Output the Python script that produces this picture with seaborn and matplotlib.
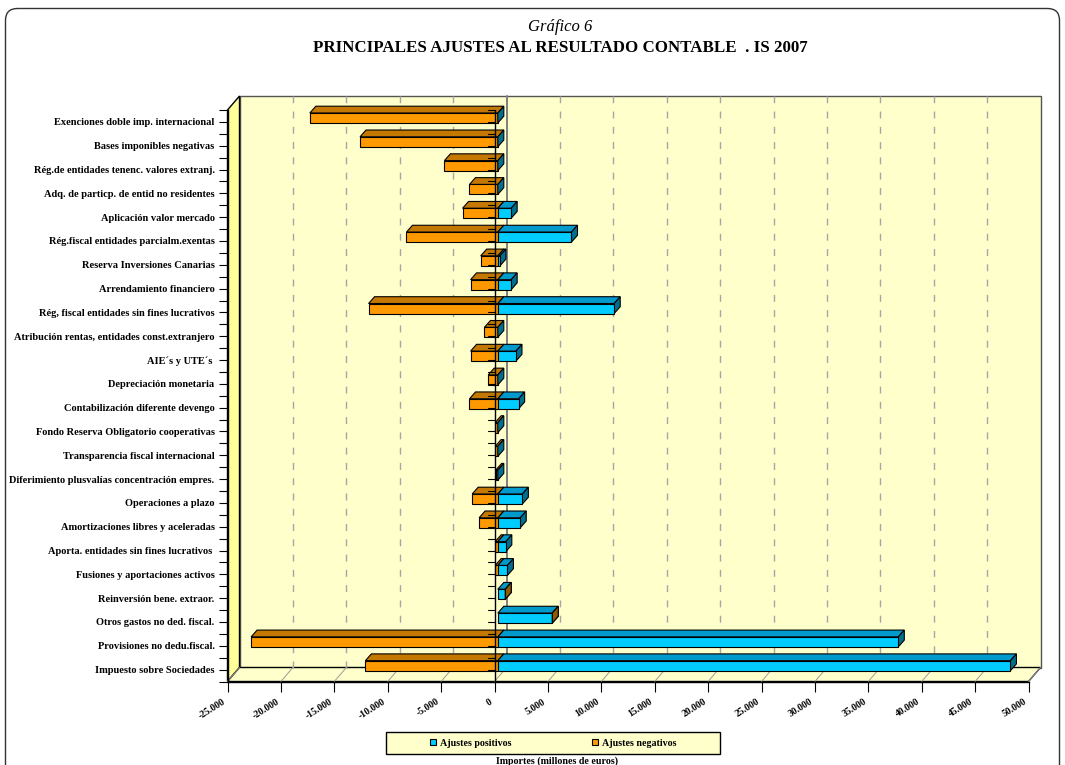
import numpy as np
import pandas as pd
import seaborn as sns
import matplotlib
matplotlib.use("Agg")
import matplotlib.pyplot as plt
import matplotlib.transforms as mtransforms
from matplotlib.patches import Polygon, Rectangle, FancyBboxPatch
from matplotlib.lines import Line2D
from matplotlib.ticker import FixedLocator, FuncFormatter

# ---------------------------------------------------------------- data
conceptos = [
    "Exenciones doble imp. internacional",
    "Bases imponibles negativas",
    "Rég.de entidades tenenc. valores extranj.",
    "Adq. de particp. de entid no residentes",
    "Aplicación valor mercado",
    "Rég.fiscal entidades parcialm.exentas",
    "Reserva Inversiones Canarias",
    "Arrendamiento financiero",
    "Rég, fiscal entidades sin fines lucrativos",
    "Atribución rentas, entidades const.extranjero",
    "AIE´s y UTE´s ",
    "Depreciación monetaria",
    "Contabilización diferente devengo",
    "Fondo Reserva Obligatorio cooperativas",
    "Transparencia fiscal internacional",
    "Diferimiento plusvalías concentración empres.",
    "Operaciones a plazo",
    "Amortizaciones libres y aceleradas",
    "Aporta. entidades sin fines lucrativos ",
    "Fusiones y aportaciones activos",
    "Reinversión bene. extraor.",
    "Otros gastos no ded. fiscal.",
    "Provisiones no dedu.fiscal.",
    "Impuesto sobre Sociedades",
]
ajustes_positivos = [0, 0, 0, 0, 1250, 6900, 200, 1250, 10900, 0, 1700, 0,
                     1950, 0, 0, 0, 2300, 2100, 750, 900, 700, 5100, 37500, 48000]
ajustes_negativos = [-17600, -12900, -5000, -2650, -3300, -8550, -1600, -2550,
                     -12100, -1250, -2550, -900, -2650, -250, -250, -200, -2400,
                     -1750, -250, -250, 0, 0, -23100, -12400]
series = ["Ajustes positivos", "Ajustes negativos"]
x_ticks = list(range(-25000, 50001, 5000))

titulo_sup = "Gráfico 6"
titulo = "PRINCIPALES AJUSTES AL RESULTADO CONTABLE  . IS 2007"
eje_x = "Importes (millones de euros)"

# ---------------------------------------------------------------- style
sns.set_style("ticks", {"axes.edgecolor": "black", "text.color": "black",
                        "xtick.color": "black", "ytick.color": "black",
                        "axes.labelcolor": "black"})
plt.rcParams["font.family"] = ["Liberation Serif", "DejaVu Serif"]
plt.rcParams["font.weight"] = "bold"

COL_POS, COL_POS_TOP, COL_POS_SIDE = "#00CCFF", "#0099CC", "#006F8F"
COL_NEG, COL_NEG_TOP, COL_NEG_SIDE = "#FF9900", "#C47800", "#8F5A00"
WALL, LEFT_WALL = "#FFFFCC", "#FFFF99"

W, H = 1065, 765
fig = plt.figure(figsize=(W / 100, H / 100), dpi=100)
fig.patch.set_facecolor("white")

# front plane of the plot box, in pixels measured from the top-left corner
FL, FR, FT, FB = 227.5, 1028.5, 110.0, 681.5
ax = fig.add_axes([FL / W, 1 - FB / H, (FR - FL) / W, (FB - FT) / H])
ax.set_facecolor("none")

n = len(conceptos)
df = pd.DataFrame({
    "Concepto": conceptos * 2,
    "Importe": ajustes_positivos + ajustes_negativos,
    "Serie": [series[0]] * n + [series[1]] * n,
})

sns.barplot(data=df, y="Concepto", x="Importe", hue="Serie", hue_order=series,
            order=conceptos, palette={series[0]: COL_POS, series[1]: COL_NEG},
            dodge=False, width=0.42, saturation=1, errorbar=None,
            edgecolor="black", linewidth=0.8, ax=ax)

leg = ax.get_legend()
handles = leg.legend_handles
labels = [t.get_text() for t in leg.get_texts()]
leg.remove()

ax.set_xlim(-25000, 50000)
ax.set_ylim(n - 0.5, -0.5)
ax.set_autoscale_on(False)
ax.set_xlabel("")
ax.set_ylabel("")

ax.xaxis.set_major_locator(FixedLocator(x_ticks))
ax.xaxis.set_major_formatter(FuncFormatter(lambda v, _: f"{int(v):,}".replace(",", ".")))
ax.yaxis.set_minor_locator(FixedLocator(np.arange(-0.5, n, 1.0)))
ax.tick_params(axis="y", which="both", direction="out", length=6.8, width=0.8,
               pad=2.5, labelsize=7.5, left=True)
ax.tick_params(axis="x", direction="out", length=7.2, width=0.8, pad=4,
               labelsize=7, bottom=True)
for s in ("top", "right"):
    ax.spines[s].set_visible(False)
for s in ("left", "bottom"):
    ax.spines[s].set_linewidth(1.0)
    ax.spines[s].set_color("black")

# ---------------------------------------------------------------- 3-D box
ID = mtransforms.IdentityTransform()
WDX, WDY = 12.0, 14.0      # depth of the box (display pixels)
BSX, BSY = 3.3, 3.9        # bars sit a little behind the front plane
BDX, BDY = 6.0, 6.8        # thickness of each bar


def disp(xv, yv):
    return ax.transData.transform((xv, yv))


xl, yb = disp(-25000, n - 0.5)
xr, yt = disp(50000, -0.5)


def add_poly(pts, fc, ec="black", lw=0.8, z=1.0):
    p = Polygon(pts, closed=True, facecolor=fc, edgecolor=ec, linewidth=lw,
                transform=ID, zorder=z, clip_on=False)
    ax.add_artist(p)
    return p


def add_line(xs, ys, **kw):
    ln = Line2D(xs, ys, transform=ID, clip_on=False, **kw)
    ax.add_artist(ln)
    return ln


# back wall, left wall and floor
add_poly([(xl + WDX, yb + WDY), (xr + WDX, yb + WDY), (xr + WDX, yt + WDY),
          (xl + WDX, yt + WDY)], WALL, ec="#555555", lw=1.0, z=0.2)
add_poly([(xl, yb), (xl + WDX, yb + WDY), (xl + WDX, yt + WDY), (xl, yt)],
         LEFT_WALL, ec="black", lw=1.0, z=0.3)
add_poly([(xl, yb), (xr, yb), (xr + WDX, yb + WDY), (xl + WDX, yb + WDY)],
         WALL, ec="black", lw=1.0, z=0.3)

# gridlines on the back wall and on the floor
for v in x_ticks:
    xv, _ = disp(v, 0)
    if -25000 < v < 50000:
        if v == 0:
            add_line([xv + WDX, xv + WDX], [yb + WDY, yt + WDY], color="#7F7F7F",
                     lw=1.4, zorder=0.4)
        else:
            add_line([xv + WDX, xv + WDX], [yb + WDY, yt + WDY], color="#A6A6A6",
                     lw=1.0, ls=(0, (5, 6)), zorder=0.4)
    add_line([xv, xv + WDX], [yb, yb + WDY], color="#9A9A9A", lw=0.7, zorder=0.45)

# ---------------------------------------------------------------- bars
shift = mtransforms.Affine2D().translate(BSX, BSY)
cont_pos, cont_neg = ax.containers[0], ax.containers[1]


def faces(bar, top_col, side_col, z, draw_side=True):
    bar.set_transform(ax.transData + shift)
    bar.set_zorder(z + 0.2)
    x0, y0 = disp(bar.get_x(), bar.get_y() + bar.get_height())
    x1, y1 = disp(bar.get_x() + bar.get_width(), bar.get_y())
    x0, x1 = min(x0, x1) + BSX, max(x0, x1) + BSX
    ylo, yhi = min(y0, y1) + BSY, max(y0, y1) + BSY
    if x1 - x0 > 0.01:
        add_poly([(x0, yhi), (x1, yhi), (x1 + BDX, yhi + BDY), (x0 + BDX, yhi + BDY)],
                 top_col, z=z)
    else:
        bar.set_visible(False)
    if draw_side:
        add_poly([(x1, ylo), (x1, yhi), (x1 + BDX, yhi + BDY), (x1 + BDX, ylo + BDY)],
                 side_col, z=z + 0.1)
    return x1, ylo, yhi


for bn, bp, vn, vp in zip(cont_neg.patches, cont_pos.patches,
                          ajustes_negativos, ajustes_positivos):
    faces(bn, COL_NEG_TOP, COL_NEG_SIDE, 2.0, draw_side=False)
    xe, ylo, yhi = faces(bp, COL_POS_TOP, COL_POS_SIDE, 3.0)
    if vn == 0:
        # a zero negative adjustment shows only its end cap at the bar tip
        add_poly([(xe, ylo), (xe, yhi), (xe + BDX, yhi + BDY), (xe + BDX, ylo + BDY)],
                 COL_NEG_SIDE, z=3.5)

# category axis crossing at zero
x0f, _ = disp(0, 0)
add_line([x0f, x0f], [yb, yt], color="black", lw=1.0, zorder=6)
for k in np.arange(-0.5, n, 0.5):
    _, yk = disp(0, k)
    add_line([x0f - 7, x0f], [yk, yk], color="black", lw=0.8, zorder=6)

# rotated value labels, set slightly left of their ticks
lbl_shift = mtransforms.ScaledTranslation(-5 / 100, 0, fig.dpi_scale_trans)
for lbl in ax.get_xticklabels():
    lbl.set_rotation(32)
    lbl.set_ha("right")
    lbl.set_va("top")
    lbl.set_rotation_mode("anchor")
    lbl.set_fontweight("bold")
    lbl.set_transform(lbl.get_transform() + lbl_shift)

# ---------------------------------------------------------------- texts
fig.text(560 / W, 1 - 27 / H, titulo_sup, ha="center", va="center",
         fontsize=12, style="italic", fontweight="normal")
fig.text(560 / W, 1 - 48 / H, titulo, ha="center", va="center",
         fontsize=12.2, fontweight="bold")

# legend box
fig.add_artist(Rectangle((386, H - 754), 333.5, 22.5, transform=ID,
                         facecolor=WALL, edgecolor="black", linewidth=1.0, zorder=1))
lg = fig.legend(handles, labels, loc="center", bbox_to_anchor=(553 / W, 1 - 743 / H),
                ncol=2, frameon=False, handlelength=0.6, handleheight=0.6,
                handletextpad=0.4, columnspacing=8.0,
                prop={"family": ["Liberation Serif"], "weight": "bold", "size": 7.2})
lg.set_zorder(2)
for h in lg.legend_handles:
    h.set_edgecolor("black")
    h.set_linewidth(0.8)

fig.text(556.7 / W, 1 - 761 / H, eje_x, ha="center", va="center", fontsize=7.2,
         fontweight="bold")

# outer rounded frame
fig.add_artist(FancyBboxPatch((5.5, -30), 1054, H - 8.5 + 30,
                              boxstyle="round,pad=0,rounding_size=12", transform=ID,
                              facecolor="none", edgecolor="#333333", linewidth=1.0,
                              zorder=3))

fig.savefig("out.png", dpi=100)
